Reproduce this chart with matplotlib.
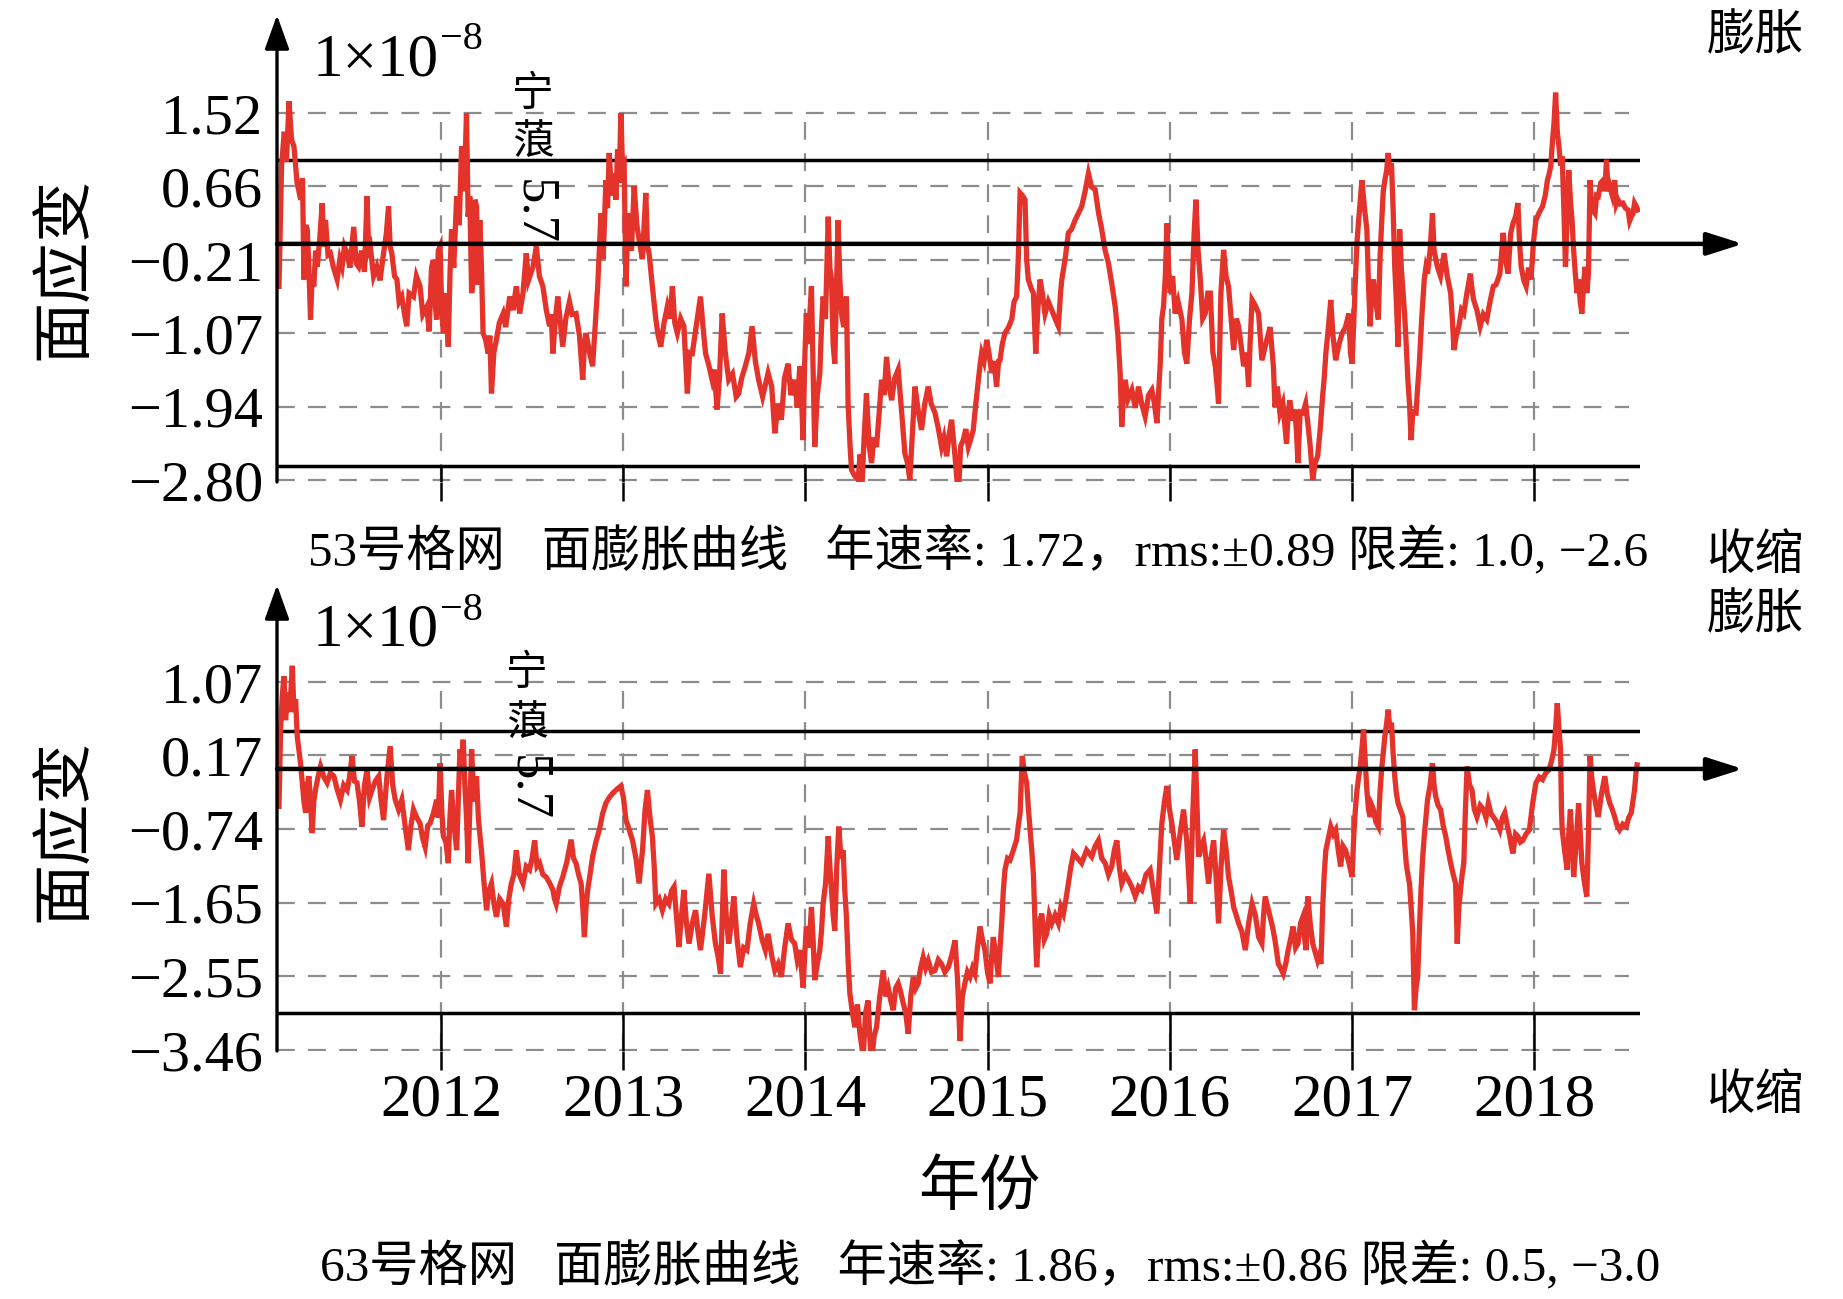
import matplotlib
matplotlib.use("Agg")
import matplotlib.pyplot as plt

W, H = 1843, 1299
FAM = ['Liberation Serif', 'Noto Sans CJK SC']
plt.rcParams['font.family'] = FAM
plt.rcParams['axes.unicode_minus'] = True

# === data (years, strain in 1e-8) ===
years = [2012, 2013, 2014, 2015, 2016, 2017, 2018]
year_labels = ['2012', '2013', '2014', '2015', '2016', '2017', '2018']

top_ticks = [1.52, 0.66, -0.21, -1.07, -1.94, -2.80]
bot_ticks = [1.07, 0.17, -0.74, -1.65, -2.55, -3.46]

top_limits = [0.97, -2.63]   # drawn limit lines, grid 53
bot_limits = [0.47, -3.00]   # drawn limit lines, grid 63
top_zero = -0.02
bot_zero = 0.0

top_pts = [
    (2011.111, -0.52), (2011.125, 0.90), (2011.140, 1.30), (2011.152, 0.95), (2011.166, 1.66),
    (2011.180, 1.20), (2011.193, 1.13), (2011.210, 0.70), (2011.230, 0.50), (2011.240, 0.75),
    (2011.248, -0.44), (2011.258, 0.20), (2011.266, 0.15), (2011.275, -0.30), (2011.284, -0.91),
    (2011.293, -0.40), (2011.302, -0.52), (2011.312, -0.10), (2011.321, -0.29), (2011.335, 0.05),
    (2011.348, 0.46), (2011.357, -0.05), (2011.366, 0.26), (2011.380, -0.15), (2011.393, -0.13),
    (2011.410, -0.30), (2011.430, -0.44), (2011.445, -0.20), (2011.457, -0.29), (2011.470, -0.05),
    (2011.485, -0.13), (2011.500, -0.30), (2011.521, 0.18), (2011.535, -0.25), (2011.548, -0.29),
    (2011.565, -0.10), (2011.580, -0.35), (2011.594, 0.54), (2011.603, -0.10), (2011.612, -0.05),
    (2011.630, -0.40), (2011.648, -0.29), (2011.665, -0.45), (2011.685, -0.13), (2011.700, 0.10),
    (2011.712, 0.42), (2011.721, -0.05), (2011.730, -0.13), (2011.745, -0.40), (2011.758, -0.44),
    (2011.770, -0.70), (2011.785, -0.64), (2011.800, -0.85), (2011.812, -0.99), (2011.825, -0.60),
    (2011.849, -0.64), (2011.865, -0.40), (2011.885, -0.52), (2011.900, -0.85), (2011.922, -0.76),
    (2011.935, -1.05), (2011.948, -0.30), (2011.958, -0.21), (2011.967, -0.70), (2011.976, -0.91),
    (2011.985, -0.10), (2011.995, -0.05), (2012.004, -0.80), (2012.013, -1.07), (2012.025, -0.60),
    (2012.040, -1.23), (2012.049, -0.40), (2012.058, 0.15), (2012.070, -0.30), (2012.086, 0.54),
    (2012.100, 0.20), (2012.113, 1.13), (2012.127, 0.60), (2012.140, 1.52), (2012.149, 0.30),
    (2012.158, 0.54), (2012.168, -0.60), (2012.177, -0.44), (2012.186, 0.50), (2012.195, 0.42),
    (2012.204, -0.50), (2012.213, 0.26), (2012.222, -0.30), (2012.231, -1.07), (2012.245, -1.15),
    (2012.259, -1.31), (2012.268, -1.10), (2012.277, -1.78), (2012.290, -1.30), (2012.304, -1.15),
    (2012.320, -0.95), (2012.341, -0.84), (2012.355, -1.00), (2012.377, -0.64), (2012.395, -0.80),
    (2012.413, -0.52), (2012.432, -0.84), (2012.450, -0.60), (2012.468, -0.13), (2012.480, -0.45),
    (2012.505, -0.29), (2012.523, -0.05), (2012.540, -0.40), (2012.559, -0.52), (2012.578, -0.80),
    (2012.596, -0.99), (2012.605, -0.85), (2012.614, -1.31), (2012.628, -0.90), (2012.641, -0.64),
    (2012.655, -0.95), (2012.668, -1.23), (2012.685, -0.90), (2012.705, -0.70), (2012.720, -0.85),
    (2012.741, -0.84), (2012.760, -1.10), (2012.778, -1.62), (2012.787, -1.20), (2012.796, -1.07),
    (2012.815, -1.30), (2012.832, -1.46), (2012.846, -1.00), (2012.860, -0.52), (2012.878, 0.34),
    (2012.890, -0.20), (2012.905, 0.73), (2012.914, 0.40), (2012.923, 1.05), (2012.937, 0.55),
    (2012.951, 0.81), (2012.960, 0.50), (2012.969, 1.09), (2012.978, 0.70), (2012.987, 1.52),
    (2012.996, 0.90), (2013.005, 0.93), (2013.015, -0.52), (2013.024, 0.10), (2013.033, 0.34),
    (2013.045, -0.10), (2013.060, 0.66), (2013.075, 0.20), (2013.087, 0.03), (2013.105, -0.20),
    (2013.124, 0.58), (2013.133, -0.05), (2013.142, -0.13), (2013.160, -0.52), (2013.179, -0.91),
    (2013.192, -1.10), (2013.206, -1.23), (2013.224, -0.95), (2013.242, -0.76), (2013.256, -0.90),
    (2013.270, -0.52), (2013.283, -0.95), (2013.297, -1.07), (2013.315, -0.90), (2013.333, -0.99),
    (2013.343, -1.40), (2013.352, -1.78), (2013.365, -1.30), (2013.379, -1.31), (2013.400, -1.00),
    (2013.424, -0.64), (2013.438, -1.00), (2013.452, -1.31), (2013.470, -1.45), (2013.488, -1.62),
    (2013.500, -1.50), (2013.515, -1.97), (2013.528, -1.60), (2013.543, -0.84), (2013.560, -1.30),
    (2013.579, -1.62), (2013.600, -1.55), (2013.620, -1.82), (2013.634, -1.78), (2013.650, -1.60),
    (2013.670, -1.46), (2013.690, -1.30), (2013.707, -0.99), (2013.725, -1.40), (2013.743, -1.62),
    (2013.765, -1.82), (2013.795, -1.54), (2013.815, -1.70), (2013.832, -2.25), (2013.850, -1.90),
    (2013.868, -2.09), (2013.885, -1.60), (2013.905, -1.43), (2013.920, -1.80), (2013.941, -1.62),
    (2013.955, -1.95), (2013.969, -1.46), (2013.978, -1.80), (2013.987, -2.33), (2013.996, -1.40),
    (2014.005, -0.84), (2014.015, -1.20), (2014.033, -0.52), (2014.042, -1.50), (2014.051, -2.41),
    (2014.065, -1.80), (2014.079, -1.54), (2014.088, -1.00), (2014.097, -0.64), (2014.110, -0.90),
    (2014.125, 0.30), (2014.134, -0.30), (2014.143, -0.44), (2014.152, -1.20), (2014.161, -1.43),
    (2014.170, -0.60), (2014.179, 0.26), (2014.188, -0.40), (2014.198, -0.84), (2014.210, -1.00),
    (2014.225, -0.64), (2014.234, -1.90), (2014.245, -2.40), (2014.253, -2.68), (2014.270, -2.75),
    (2014.289, -2.80), (2014.300, -2.50), (2014.308, -2.99), (2014.322, -2.30), (2014.335, -1.78),
    (2014.350, -2.40), (2014.363, -2.60), (2014.375, -2.30), (2014.390, -2.41), (2014.405, -2.00),
    (2014.418, -1.62), (2014.432, -1.80), (2014.445, -1.35), (2014.460, -1.70), (2014.473, -1.86),
    (2014.490, -1.60), (2014.509, -1.50), (2014.528, -2.00), (2014.546, -2.49), (2014.560, -2.60),
    (2014.573, -2.80), (2014.588, -2.20), (2014.601, -1.70), (2014.620, -2.00), (2014.637, -2.21),
    (2014.655, -1.90), (2014.674, -1.70), (2014.690, -1.90), (2014.711, -2.01), (2014.730, -2.20),
    (2014.747, -2.41), (2014.760, -2.30), (2014.775, -2.52), (2014.790, -2.25), (2014.802, -2.09),
    (2014.820, -2.50), (2014.839, -2.99), (2014.852, -2.40), (2014.866, -2.33), (2014.880, -2.20),
    (2014.894, -2.41), (2014.910, -2.30), (2014.921, -2.21), (2014.935, -1.90), (2014.949, -1.62),
    (2014.958, -1.45), (2014.967, -1.31), (2014.980, -1.40), (2014.995, -1.15), (2015.010, -1.35),
    (2015.022, -1.54), (2015.035, -1.40), (2015.049, -1.70), (2015.060, -1.40), (2015.068, -1.39),
    (2015.080, -1.20), (2015.095, -1.07), (2015.115, -1.00), (2015.132, -0.91), (2015.145, -0.70),
    (2015.159, -0.64), (2015.168, -0.20), (2015.178, 0.58), (2015.190, 0.55), (2015.205, 0.50),
    (2015.214, -0.20), (2015.223, -0.44), (2015.240, -0.55), (2015.251, -0.60), (2015.264, -1.31),
    (2015.275, -0.80), (2015.288, -0.44), (2015.300, -0.60), (2015.315, -0.84), (2015.333, -0.70),
    (2015.352, -0.80), (2015.370, -0.90), (2015.388, -0.99), (2015.400, -0.60), (2015.407, -0.44),
    (2015.425, -0.20), (2015.443, 0.11), (2015.460, 0.15), (2015.480, 0.26), (2015.500, 0.35),
    (2015.516, 0.42), (2015.535, 0.60), (2015.553, 0.81), (2015.570, 0.65), (2015.590, 0.62),
    (2015.608, 0.35), (2015.626, 0.15), (2015.645, -0.10), (2015.663, -0.25), (2015.682, -0.50),
    (2015.700, -0.76), (2015.715, -1.10), (2015.727, -1.54), (2015.736, -2.17), (2015.745, -1.80),
    (2015.755, -1.62), (2015.770, -1.85), (2015.791, -1.74), (2015.810, -1.95), (2015.828, -1.70),
    (2015.845, -1.90), (2015.864, -2.05), (2015.883, -1.80), (2015.901, -1.74), (2015.915, -1.90),
    (2015.929, -2.13), (2015.940, -1.70), (2015.947, -1.43), (2015.956, -0.90), (2015.965, -0.76),
    (2015.975, -0.40), (2015.984, 0.22), (2015.993, -0.30), (2016.002, -0.60), (2016.015, -0.40),
    (2016.029, -0.84), (2016.045, -0.70), (2016.066, -0.91), (2016.080, -1.30), (2016.093, -1.43),
    (2016.108, -0.90), (2016.121, -0.60), (2016.133, 0.10), (2016.143, 0.50), (2016.155, -0.10),
    (2016.167, -0.44), (2016.180, -0.90), (2016.194, -0.84), (2016.208, -0.60), (2016.222, -0.60),
    (2016.236, -1.30), (2016.249, -1.46), (2016.260, -1.70), (2016.267, -1.90), (2016.280, -0.60),
    (2016.295, -0.09), (2016.308, -0.40), (2016.322, -0.52), (2016.336, -0.90), (2016.350, -1.27),
    (2016.365, -0.90), (2016.377, -0.99), (2016.390, -1.20), (2016.405, -1.46), (2016.420, -1.30),
    (2016.432, -1.70), (2016.440, -1.20), (2016.451, -0.68), (2016.470, -0.75), (2016.487, -0.84),
    (2016.505, -1.39), (2016.532, -1.15), (2016.550, -1.00), (2016.568, -1.46), (2016.577, -1.94),
    (2016.590, -1.70), (2016.604, -2.01), (2016.620, -1.90), (2016.640, -2.37), (2016.650, -2.00),
    (2016.658, -1.86), (2016.672, -2.10), (2016.685, -1.97), (2016.694, -2.20), (2016.703, -2.60),
    (2016.715, -2.00), (2016.730, -2.01), (2016.745, -1.90), (2016.757, -2.13), (2016.770, -2.40),
    (2016.784, -2.80), (2016.797, -2.60), (2016.811, -2.52), (2016.825, -2.20), (2016.838, -1.82),
    (2016.847, -1.60), (2016.856, -1.31), (2016.870, -1.00), (2016.883, -0.68), (2016.895, -1.10),
    (2016.910, -1.39), (2016.928, -1.20), (2016.946, -1.07), (2016.964, -1.00), (2016.982, -0.84),
    (2016.991, -1.30), (2017.000, -1.43), (2017.010, -0.90), (2017.018, -0.44), (2017.027, 0.00),
    (2017.036, 0.26), (2017.045, 0.50), (2017.054, 0.73), (2017.068, 0.40), (2017.081, 0.15),
    (2017.090, -0.50), (2017.099, -0.99), (2017.108, -0.60), (2017.117, -0.44), (2017.130, -0.70),
    (2017.144, -0.91), (2017.153, -0.20), (2017.162, 0.22), (2017.171, 0.60), (2017.180, 0.73),
    (2017.190, 0.85), (2017.198, 1.05), (2017.207, 0.80), (2017.216, 0.93), (2017.225, 0.40),
    (2017.234, -0.29), (2017.243, -0.70), (2017.252, -1.23), (2017.261, 0.15), (2017.270, -0.30),
    (2017.288, -0.84), (2017.297, -1.20), (2017.306, -1.62), (2017.315, -1.90), (2017.324, -2.33),
    (2017.333, -2.00), (2017.351, -2.01), (2017.360, -1.70), (2017.369, -1.43), (2017.382, -0.90),
    (2017.396, -0.44), (2017.405, -0.30), (2017.414, -0.37), (2017.428, -0.10), (2017.441, 0.34),
    (2017.450, -0.10), (2017.468, -0.29), (2017.485, -0.40), (2017.505, -0.13), (2017.522, -0.40),
    (2017.541, -0.60), (2017.550, -0.90), (2017.559, -1.27), (2017.572, -1.10), (2017.586, -0.99),
    (2017.600, -0.80), (2017.613, -0.84), (2017.630, -0.60), (2017.649, -0.37), (2017.658, -0.55),
    (2017.667, -0.68), (2017.685, -0.80), (2017.703, -0.99), (2017.720, -0.85), (2017.739, -0.91),
    (2017.757, -0.70), (2017.775, -0.52), (2017.790, -0.50), (2017.811, -0.37), (2017.820, -0.15),
    (2017.829, 0.11), (2017.842, -0.20), (2017.856, -0.37), (2017.870, 0.10), (2017.883, 0.22),
    (2017.897, 0.30), (2017.910, 0.46), (2017.919, 0.00), (2017.928, -0.29), (2017.942, -0.45),
    (2017.955, -0.52), (2017.968, -0.30), (2017.982, -0.44), (2017.995, 0.00), (2018.009, 0.26),
    (2018.027, 0.35), (2018.045, 0.42), (2018.060, 0.55), (2018.072, 0.73), (2018.081, 0.80),
    (2018.090, 0.89), (2018.100, 1.20), (2018.108, 1.40), (2018.117, 1.76), (2018.126, 1.30),
    (2018.135, 1.13), (2018.144, 0.90), (2018.153, 1.01), (2018.162, 0.40), (2018.171, -0.29),
    (2018.180, 0.30), (2018.189, 0.85), (2018.198, 0.50), (2018.207, 0.26), (2018.216, -0.10),
    (2018.225, -0.37), (2018.234, -0.60), (2018.243, -0.44), (2018.252, -0.70), (2018.261, -0.84),
    (2018.270, -0.50), (2018.279, -0.29), (2018.288, -0.60), (2018.297, -0.37), (2018.306, 0.73),
    (2018.315, 0.40), (2018.333, 0.34), (2018.342, 0.55), (2018.351, 0.54), (2018.365, 0.70),
    (2018.378, 0.73), (2018.387, 0.60), (2018.396, 0.97), (2018.405, 0.60), (2018.414, 0.66),
    (2018.428, 0.55), (2018.441, 0.73), (2018.450, 0.45), (2018.459, 0.50), (2018.472, 0.45),
    (2018.486, 0.46), (2018.500, 0.40), (2018.514, 0.38), (2018.523, 0.25), (2018.532, 0.30),
    (2018.541, 0.33), (2018.550, 0.46), (2018.560, 0.42), (2018.568, 0.38),
]

bot_pts = [
    (2011.111, -0.46), (2011.120, 0.50), (2011.129, 0.90), (2011.138, 1.14), (2011.147, 0.60),
    (2011.157, 0.94), (2011.170, 0.70), (2011.184, 1.27), (2011.193, 0.70), (2011.202, 0.86),
    (2011.211, 0.40), (2011.220, 0.24), (2011.230, 0.05), (2011.239, -0.17), (2011.248, -0.40),
    (2011.257, -0.54), (2011.266, -0.20), (2011.275, -0.09), (2011.284, -0.40), (2011.293, -0.79),
    (2011.302, -0.40), (2011.311, -0.26), (2011.325, -0.10), (2011.339, 0.03), (2011.357, -0.10),
    (2011.375, -0.17), (2011.393, -0.05), (2011.412, -0.09), (2011.430, -0.25), (2011.448, -0.38),
    (2011.466, -0.20), (2011.485, -0.26), (2011.498, -0.10), (2011.512, 0.16), (2011.525, -0.15),
    (2011.539, -0.17), (2011.553, -0.40), (2011.566, -0.71), (2011.580, -0.20), (2011.594, -0.01),
    (2011.608, -0.35), (2011.621, -0.26), (2011.640, -0.15), (2011.658, -0.09), (2011.672, -0.40),
    (2011.685, -0.63), (2011.703, -0.10), (2011.721, 0.28), (2011.735, -0.20), (2011.749, -0.38),
    (2011.767, -0.50), (2011.785, -0.38), (2011.803, -0.70), (2011.821, -1.00), (2011.835, -0.70),
    (2011.849, -0.50), (2011.867, -0.60), (2011.885, -0.67), (2011.899, -0.85), (2011.913, -0.96),
    (2011.927, -0.70), (2011.940, -0.67), (2011.958, -0.55), (2011.976, -0.38), (2011.985, -0.60),
    (2011.995, 0.07), (2012.004, -0.50), (2012.013, -0.83), (2012.027, -0.90), (2012.040, -1.16),
    (2012.049, -0.60), (2012.058, -0.26), (2012.072, -0.70), (2012.086, -1.00), (2012.095, -0.40),
    (2012.104, 0.24), (2012.113, 0.10), (2012.122, 0.36), (2012.131, -0.20), (2012.140, -0.60),
    (2012.149, -1.16), (2012.158, -0.50), (2012.168, 0.24), (2012.177, -0.20), (2012.186, -0.40),
    (2012.195, -0.09), (2012.205, -0.60), (2012.213, -0.80), (2012.222, -1.00), (2012.236, -1.40),
    (2012.250, -1.74), (2012.263, -1.50), (2012.277, -1.41), (2012.290, -1.65), (2012.304, -1.82),
    (2012.322, -1.60), (2012.341, -1.66), (2012.350, -1.80), (2012.359, -1.94), (2012.372, -1.60),
    (2012.386, -1.41), (2012.400, -1.30), (2012.413, -1.00), (2012.430, -1.30), (2012.450, -1.41),
    (2012.468, -1.20), (2012.486, -1.24), (2012.500, -1.10), (2012.514, -0.88), (2012.527, -1.20),
    (2012.541, -1.16), (2012.559, -1.30), (2012.577, -1.33), (2012.595, -1.40), (2012.614, -1.49),
    (2012.623, -1.60), (2012.632, -1.66), (2012.650, -1.45), (2012.668, -1.33), (2012.690, -1.15),
    (2012.714, -0.87), (2012.727, -1.10), (2012.741, -1.16), (2012.755, -1.30), (2012.769, -1.41),
    (2012.778, -1.70), (2012.787, -2.07), (2012.796, -1.70), (2012.805, -1.49), (2012.818, -1.30),
    (2012.832, -1.08), (2012.850, -0.90), (2012.869, -0.75), (2012.887, -0.55), (2012.905, -0.42),
    (2012.924, -0.35), (2012.942, -0.30), (2012.965, -0.25), (2012.987, -0.21), (2013.001, -0.35),
    (2013.015, -0.63), (2013.033, -0.75), (2013.051, -0.88), (2013.070, -1.10), (2013.087, -1.41),
    (2013.097, -1.20), (2013.106, -1.00), (2013.120, -0.50), (2013.133, -0.26), (2013.147, -0.60),
    (2013.160, -0.83), (2013.170, -1.20), (2013.179, -1.66), (2013.197, -1.60), (2013.215, -1.74),
    (2013.233, -1.60), (2013.251, -1.66), (2013.265, -1.50), (2013.279, -1.45), (2013.292, -1.80),
    (2013.306, -2.19), (2013.320, -1.80), (2013.333, -1.49), (2013.347, -1.90), (2013.361, -2.15),
    (2013.379, -1.90), (2013.397, -1.74), (2013.410, -2.00), (2013.424, -2.23), (2013.447, -1.80),
    (2013.470, -1.29), (2013.488, -1.80), (2013.506, -2.15), (2013.520, -2.30), (2013.534, -2.52),
    (2013.543, -1.90), (2013.552, -1.24), (2013.565, -1.80), (2013.579, -2.15), (2013.593, -1.90),
    (2013.607, -1.57), (2013.625, -2.10), (2013.643, -2.44), (2013.661, -2.20), (2013.679, -2.23),
    (2013.697, -1.90), (2013.716, -1.66), (2013.730, -1.80), (2013.743, -1.90), (2013.762, -2.10),
    (2013.780, -2.23), (2013.795, -2.03), (2013.815, -2.30), (2013.832, -2.48), (2013.850, -2.40),
    (2013.868, -2.56), (2013.886, -2.20), (2013.905, -1.90), (2013.923, -2.10), (2013.941, -2.15),
    (2013.955, -2.35), (2013.969, -2.23), (2013.978, -2.45), (2013.987, -2.69), (2013.996, -2.30),
    (2014.005, -1.94), (2014.019, -2.20), (2014.033, -1.70), (2014.042, -2.10), (2014.051, -2.60),
    (2014.065, -2.40), (2014.079, -2.23), (2014.088, -2.00), (2014.097, -1.66), (2014.111, -1.40),
    (2014.125, -0.83), (2014.134, -1.20), (2014.143, -1.49), (2014.152, -1.80), (2014.161, -1.99),
    (2014.172, -1.20), (2014.183, -0.71), (2014.195, -1.10), (2014.207, -1.00), (2014.216, -1.50),
    (2014.225, -1.82), (2014.235, -2.40), (2014.244, -2.77), (2014.258, -3.00), (2014.271, -3.18),
    (2014.285, -2.90), (2014.299, -3.26), (2014.308, -3.40), (2014.317, -3.55), (2014.330, -3.00),
    (2014.344, -2.85), (2014.353, -3.30), (2014.363, -3.63), (2014.376, -3.30), (2014.390, -3.18),
    (2014.408, -2.80), (2014.427, -2.48), (2014.440, -2.80), (2014.454, -2.69), (2014.468, -2.85),
    (2014.482, -2.97), (2014.495, -2.70), (2014.509, -2.64), (2014.523, -2.75), (2014.537, -2.89),
    (2014.550, -3.00), (2014.564, -3.26), (2014.578, -2.80), (2014.592, -2.56), (2014.605, -2.70),
    (2014.619, -2.64), (2014.632, -2.45), (2014.646, -2.32), (2014.660, -2.45), (2014.674, -2.36),
    (2014.692, -2.50), (2014.711, -2.48), (2014.729, -2.35), (2014.747, -2.40), (2014.765, -2.50),
    (2014.784, -2.44), (2014.802, -2.30), (2014.821, -2.11), (2014.835, -2.60), (2014.848, -3.35),
    (2014.861, -2.80), (2014.875, -2.64), (2014.889, -2.50), (2014.903, -2.56), (2014.917, -2.45),
    (2014.930, -2.52), (2014.944, -2.20), (2014.958, -1.94), (2014.971, -2.10), (2014.985, -2.23),
    (2014.999, -2.50), (2015.013, -2.64), (2015.022, -2.30), (2015.031, -2.07), (2015.045, -2.30),
    (2015.059, -2.56), (2015.068, -2.20), (2015.077, -1.90), (2015.086, -1.50), (2015.095, -1.24),
    (2015.109, -1.10), (2015.123, -1.12), (2015.141, -1.00), (2015.159, -0.87), (2015.168, -0.70),
    (2015.178, -0.54), (2015.184, -0.20), (2015.190, 0.16), (2015.202, -0.05), (2015.214, -0.17),
    (2015.224, -0.50), (2015.233, -0.75), (2015.242, -1.00), (2015.251, -1.29), (2015.260, -1.90),
    (2015.269, -2.44), (2015.283, -1.90), (2015.297, -1.78), (2015.311, -2.10), (2015.324, -2.03),
    (2015.338, -1.80), (2015.352, -1.90), (2015.370, -1.80), (2015.388, -1.90), (2015.402, -1.70),
    (2015.416, -1.78), (2015.430, -1.60), (2015.443, -1.41), (2015.457, -1.20), (2015.471, -1.04),
    (2015.494, -1.10), (2015.516, -1.16), (2015.543, -1.00), (2015.571, -1.08), (2015.590, -0.95),
    (2015.608, -0.88), (2015.626, -1.10), (2015.645, -1.16), (2015.663, -1.30), (2015.681, -1.20),
    (2015.695, -1.00), (2015.709, -0.88), (2015.722, -1.20), (2015.736, -1.41), (2015.755, -1.30),
    (2015.773, -1.37), (2015.791, -1.45), (2015.810, -1.57), (2015.828, -1.45), (2015.846, -1.49),
    (2015.869, -1.30), (2015.892, -1.24), (2015.910, -1.50), (2015.929, -1.78), (2015.943, -1.20),
    (2015.956, -0.67), (2015.970, -0.40), (2015.984, -0.21), (2015.998, -0.50), (2016.011, -0.67),
    (2016.025, -0.90), (2016.038, -1.12), (2016.056, -0.80), (2016.075, -0.50), (2016.093, -0.90),
    (2016.112, -1.66), (2016.125, -0.60), (2016.139, 0.24), (2016.148, -0.40), (2016.158, -1.08),
    (2016.172, -0.95), (2016.185, -0.88), (2016.198, -1.10), (2016.212, -1.41), (2016.226, -1.10),
    (2016.240, -0.88), (2016.253, -1.30), (2016.267, -1.90), (2016.281, -1.20), (2016.295, -0.75),
    (2016.309, -1.00), (2016.322, -1.33), (2016.336, -1.50), (2016.350, -1.70), (2016.364, -1.80),
    (2016.377, -1.90), (2016.395, -2.00), (2016.414, -2.23), (2016.432, -1.90), (2016.451, -1.66),
    (2016.469, -1.80), (2016.487, -2.07), (2016.505, -2.15), (2016.514, -1.80), (2016.523, -1.57),
    (2016.537, -1.70), (2016.550, -1.82), (2016.564, -1.95), (2016.577, -2.11), (2016.586, -2.25),
    (2016.595, -2.40), (2016.608, -2.45), (2016.622, -2.52), (2016.636, -2.40), (2016.649, -2.23),
    (2016.662, -2.10), (2016.676, -1.94), (2016.690, -2.20), (2016.703, -2.15), (2016.717, -1.90),
    (2016.730, -1.82), (2016.740, -2.10), (2016.748, -2.23), (2016.757, -1.57), (2016.770, -1.90),
    (2016.784, -2.15), (2016.797, -2.25), (2016.811, -2.36), (2016.820, -2.30), (2016.829, -2.40),
    (2016.838, -1.74), (2016.847, -1.30), (2016.856, -1.00), (2016.870, -0.85), (2016.883, -0.71),
    (2016.897, -0.80), (2016.910, -0.75), (2016.924, -1.00), (2016.937, -1.20), (2016.950, -0.95),
    (2016.964, -1.00), (2016.982, -1.15), (2017.000, -1.33), (2017.009, -0.83), (2017.018, -0.50),
    (2017.027, -0.26), (2017.036, -0.10), (2017.045, 0.03), (2017.054, 0.25), (2017.063, 0.49),
    (2017.072, 0.10), (2017.081, -0.26), (2017.090, -0.50), (2017.099, -0.59), (2017.108, -0.45),
    (2017.117, -0.50), (2017.130, -0.65), (2017.144, -0.71), (2017.153, -0.30), (2017.162, -0.01),
    (2017.171, 0.20), (2017.180, 0.40), (2017.189, 0.55), (2017.198, 0.73), (2017.207, 0.50),
    (2017.216, 0.57), (2017.225, 0.20), (2017.234, -0.09), (2017.243, -0.30), (2017.252, -0.42),
    (2017.265, -0.50), (2017.279, -0.59), (2017.288, -0.90), (2017.297, -1.16), (2017.306, -1.30),
    (2017.315, -1.41), (2017.324, -1.70), (2017.333, -2.03), (2017.342, -2.97), (2017.351, -2.70),
    (2017.360, -2.56), (2017.369, -2.00), (2017.378, -1.49), (2017.387, -1.10), (2017.396, -0.83),
    (2017.405, -0.60), (2017.414, -0.38), (2017.428, -0.20), (2017.441, 0.07), (2017.450, -0.20),
    (2017.459, -0.34), (2017.472, -0.45), (2017.486, -0.50), (2017.500, -0.70), (2017.514, -0.83),
    (2017.527, -1.00), (2017.541, -1.16), (2017.555, -1.30), (2017.568, -1.41), (2017.577, -2.15),
    (2017.586, -1.70), (2017.595, -1.49), (2017.604, -1.30), (2017.613, -1.16), (2017.622, -0.50),
    (2017.631, 0.03), (2017.645, -0.20), (2017.658, -0.26), (2017.671, -0.50), (2017.685, -0.59),
    (2017.703, -0.45), (2017.721, -0.50), (2017.735, -0.60), (2017.748, -0.42), (2017.762, -0.55),
    (2017.775, -0.59), (2017.793, -0.65), (2017.811, -0.75), (2017.825, -0.60), (2017.838, -0.54),
    (2017.852, -0.70), (2017.865, -0.83), (2017.874, -0.95), (2017.883, -1.04), (2017.897, -0.80),
    (2017.910, -0.83), (2017.924, -0.90), (2017.937, -0.88), (2017.955, -0.80), (2017.973, -0.75),
    (2017.991, -0.42), (2018.009, -0.17), (2018.027, -0.10), (2018.045, -0.13), (2018.063, -0.05),
    (2018.081, -0.01), (2018.095, 0.10), (2018.108, 0.24), (2018.117, 0.50), (2018.126, 0.81),
    (2018.135, 0.50), (2018.144, 0.24), (2018.149, -0.50), (2018.153, -0.75), (2018.166, -1.00),
    (2018.180, -1.24), (2018.189, -0.80), (2018.198, -0.50), (2018.207, -0.90), (2018.216, -1.33),
    (2018.230, -0.90), (2018.243, -0.42), (2018.252, -0.80), (2018.261, -1.16), (2018.275, -1.40),
    (2018.288, -1.57), (2018.297, -0.80), (2018.306, 0.16), (2018.315, -0.10), (2018.324, -0.26),
    (2018.338, -0.45), (2018.351, -0.59), (2018.369, -0.30), (2018.387, -0.09), (2018.400, -0.30),
    (2018.414, -0.42), (2018.428, -0.50), (2018.441, -0.59), (2018.455, -0.70), (2018.468, -0.75),
    (2018.486, -0.68), (2018.505, -0.71), (2018.518, -0.60), (2018.532, -0.54), (2018.541, -0.40),
    (2018.550, -0.26), (2018.558, -0.05), (2018.564, 0.05),
]

top_caption = "53号格网   面膨胀曲线   年速率: 1.72，rms:±0.89 限差: 1.0, −2.6"
bot_caption = "63号格网   面膨胀曲线   年速率: 1.86，rms:±0.86 限差: 0.5, −3.0"

RED = '#e4332b'
GRID = '#8c8c8c'
XLIM = (2011.10, 2018.58)


def fx(x):
    return x / W


def fy(y):
    return 1 - y / H


def draw_panel(ax, pts, ticks, limits, zero, ylim, show_xlabels):
    t, v = zip(*pts)
    ax.set_xlim(*XLIM)
    ax.set_ylim(*ylim)
    for s in ax.spines.values():
        s.set_visible(False)

    # dashed grid
    ax.hlines(ticks, XLIM[0], 2018.52, colors=GRID, linestyles=(0, (8, 6)), lw=1.6, zorder=1)
    ax.vlines(years, ylim[0], ticks[0], colors=GRID, linestyles=(0, (8, 6)), lw=1.6, zorder=1)
    ax.vlines(years, ylim[0], limits[1], colors='black', lw=1.8, zorder=2)

    # limit lines
    for lv in limits:
        ax.axhline(lv, color='black', lw=2.5, zorder=3)

    ax.plot(t, v, color=RED, lw=3.8, zorder=4, solid_joinstyle='miter')

    # zero line with arrow
    ax.annotate('', xy=(1.0755, zero), xycoords=('axes fraction', 'data'),
                xytext=(0, zero), textcoords=('axes fraction', 'data'),
                arrowprops=dict(arrowstyle='-|>,head_length=2.2,head_width=0.7',
                                mutation_scale=10, lw=3.2, color='black',
                                shrinkA=0, shrinkB=0), zorder=5, annotation_clip=False)
    # y axis with arrow
    ax.annotate('', xy=(0, 1), xycoords='axes fraction',
                xytext=(0, 0), textcoords='axes fraction',
                arrowprops=dict(arrowstyle='-|>,head_length=2.1,head_width=0.75',
                                mutation_scale=10, lw=2.4, color='black',
                                shrinkA=0, shrinkB=0), zorder=5, annotation_clip=False)

    ax.set_yticks(ticks, labels=[f"{x:.2f}".replace('-', '−') for x in ticks])
    ax.tick_params(axis='y', length=0, pad=10, labelsize=42)
    ax.set_xticks(years, labels=year_labels)
    ax.tick_params(axis='x', direction='out', length=13.5, width=1.8, pad=2,
                   labelsize=44, labelbottom=show_xlabels)


fig = plt.figure(figsize=(W / 100, H / 100), dpi=100)
left, width = fx(277), (1640 - 277) / W
ax1 = fig.add_axes([left, fy(482), width, (482 - 15) / H])
ax2 = fig.add_axes([left, fy(1051), width, (1051 - 585) / H])

draw_panel(ax1, top_pts, top_ticks, top_limits, top_zero, (-2.823, 2.674), False)
draw_panel(ax2, bot_pts, bot_ticks, bot_limits, bot_zero, (-3.472, 2.264), True)

for dy in (0, 571):
    fig.text(fx(313), fy(75 + dy), '1×10', fontsize=44, ha='left', va='baseline')
    fig.text(fx(440), fy(49 + dy), '−8', fontsize=29, ha='left', va='baseline')

fig.text(fx(67), fy(268), '面应变', fontsize=44, rotation=90, ha='center', va='center')
fig.text(fx(67), fy(830), '面应变', fontsize=44, rotation=90, ha='center', va='center')

# vertical annotation of the Ninglang 5.7 earthquake
for cx, ys in ((533, (96, 144, 212)), (527, (675, 725, 788))):
    fig.text(fx(cx), fy(ys[0]), '宁', fontsize=30, ha='center', va='center')
    fig.text(fx(cx), fy(ys[1]), '蒗', fontsize=30, ha='center', va='center')
    fig.text(fx(cx), fy(ys[2]), '5.7', fontsize=38, rotation=-90, ha='center', va='center')

for y, s in ((36, '膨胀'), (557, '收缩'), (615, '膨胀'), (1097, '收缩')):
    fig.text(fx(1755), fy(y), s, fontsize=35, ha='center', va='center')

fig.text(fx(978), fy(552), top_caption, fontsize=35.5, ha='center', va='center')
fig.text(fx(979), fy(1190), '年份', fontsize=44, ha='center', va='center')
fig.text(fx(990), fy(1267), bot_caption, fontsize=35.5, ha='center', va='center')

fig.savefig('out.png', dpi=100)
